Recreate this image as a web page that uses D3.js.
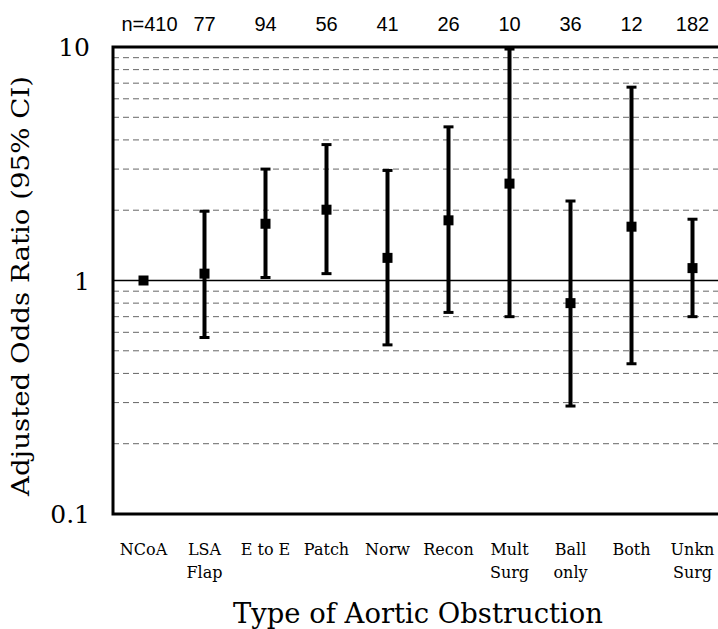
<!DOCTYPE html>
<html lang="en">
<head>
	<meta charset="UTF-8">
	<title>Adjusted Odds Ratio by Type of Aortic Obstruction</title>
	<script src="https://cdn.jsdelivr.net/npm/d3@7"></script>
	<style>
		body { margin: 0; background: #fff; }
	</style>
</head>
<body>
	<div class="box"></div>

	<script type="text/javascript">
		let categories = ['NCoA', 'LSA|Flap', 'E to E', 'Patch', 'Norw', 'Recon', 'Mult|Surg', 'Ball|only', 'Both', 'Unkn|Surg']
		let counts = ['n=410', '77', '94', '56', '41', '26', '10', '36', '12', '182']
		let oddsRatio = [1.0, 1.07, 1.75, 2.01, 1.25, 1.81, 2.6, 0.8, 1.7, 1.13]
		let ciLow = [null, 0.57, 1.03, 1.07, 0.53, 0.73, 0.70, 0.29, 0.44, 0.70]
		let ciHigh = [null, 1.98, 3.0, 3.82, 2.96, 4.55, 9.8, 2.19, 6.73, 1.83]
		let yTicks = [0.1, 1, 10]

		let width = 718
		let height = 629
		let plot = { left: 113, right: 723, top: 47, bottom: 514 }
		let serif = '"Century Schoolbook L", "DejaVu Serif", serif'

		let svg = d3.select('.box').append('svg').attr('width', width).attr('height', height)

		let x = d3.scaleBand().domain(categories).range([plot.left, plot.right])
		let y = d3.scaleLog().domain([0.1, 10]).range([plot.bottom, plot.top])

		// minor grid lines 2..9 in each decade
		let minor = []
		;[0.1, 1].forEach(dec => { for (let k = 2; k <= 9; k++) minor.push(dec * k) })
		svg.append('g').selectAll('line').data(minor).enter().append('line')
			.attr('x1', plot.left).attr('x2', plot.right)
			.attr('y1', d => y(d)).attr('y2', d => y(d))
			.attr('stroke', '#666').attr('stroke-width', 1)
			.attr('stroke-dasharray', '6,4')

		// reference line at 1
		svg.append('line')
			.attr('x1', plot.left).attr('x2', plot.right)
			.attr('y1', y(1)).attr('y2', y(1))
			.attr('stroke', '#000').attr('stroke-width', 1.5)

		// frame
		svg.append('rect')
			.attr('x', plot.left).attr('y', plot.top)
			.attr('width', plot.right - plot.left).attr('height', plot.bottom - plot.top)
			.attr('fill', 'none').attr('stroke', '#000').attr('stroke-width', 3)

		// y tick labels
		svg.append('g').selectAll('text').data(yTicks).enter().append('text')
			.attr('x', 90).attr('y', d => y(d)).attr('dy', '0.36em')
			.attr('text-anchor', 'end')
			.attr('font-family', serif).attr('font-size', '25px')
			.text(d => d)

		let cx = d => x(d) + x.bandwidth() / 2
		let pts = categories.map((c, i) => ({ c: c, or: oddsRatio[i], lo: ciLow[i], hi: ciHigh[i], n: counts[i] }))
		let withCI = pts.filter(d => d.lo !== null)

		// error bars
		let bars = svg.append('g')
		bars.selectAll('line.whisker').data(withCI).enter().append('line')
			.attr('class', 'whisker')
			.attr('x1', d => cx(d.c)).attr('x2', d => cx(d.c))
			.attr('y1', d => y(d.lo)).attr('y2', d => y(d.hi))
			.attr('stroke', '#000').attr('stroke-width', 4)
		bars.selectAll('line.capHi').data(withCI).enter().append('line')
			.attr('class', 'capHi')
			.attr('x1', d => cx(d.c) - 5).attr('x2', d => cx(d.c) + 5)
			.attr('y1', d => y(d.hi)).attr('y2', d => y(d.hi))
			.attr('stroke', '#000').attr('stroke-width', 3)
		bars.selectAll('line.capLo').data(withCI).enter().append('line')
			.attr('class', 'capLo')
			.attr('x1', d => cx(d.c) - 5).attr('x2', d => cx(d.c) + 5)
			.attr('y1', d => y(d.lo)).attr('y2', d => y(d.lo))
			.attr('stroke', '#000').attr('stroke-width', 3)

		// point estimates
		svg.append('g').selectAll('rect').data(pts).enter().append('rect')
			.attr('x', d => cx(d.c) - 5).attr('y', d => y(d.or) - 5)
			.attr('width', 10).attr('height', 10)
			.attr('fill', '#000')

		// sample sizes above the plot
		svg.append('g').selectAll('text').data(pts).enter().append('text')
			.attr('x', (d, i) => cx(d.c) + (i === 0 ? 6 : 0)).attr('y', 31)
			.attr('text-anchor', 'middle')
			.attr('font-family', '"Liberation Sans", Arial, sans-serif').attr('font-size', '20px')
			.text(d => d.n)

		// category labels, two lines
		let cat = svg.append('g').selectAll('text').data(categories).enter().append('text')
			.attr('text-anchor', 'middle')
			.attr('font-family', serif).attr('font-size', '16px')
		cat.selectAll('tspan').data(d => d.split('|').map(s => ({ s: s, c: d }))).enter().append('tspan')
			.attr('x', d => cx(d.c))
			.attr('y', (d, i) => 555 + i * 23)
			.text(d => d.s)

		// axis titles
		svg.append('text')
			.attr('x', (plot.left + plot.right) / 2).attr('y', 623)
			.attr('text-anchor', 'middle')
			.attr('font-family', serif).attr('font-size', '27px')
			.attr('textLength', 370).attr('lengthAdjust', 'spacingAndGlyphs')
			.text('Type of Aortic Obstruction')

		svg.append('text')
			.attr('transform', 'translate(29,286) rotate(-90)')
			.attr('text-anchor', 'middle')
			.attr('font-family', serif).attr('font-size', '25px')
			.attr('textLength', 420).attr('lengthAdjust', 'spacingAndGlyphs')
			.text('Adjusted Odds Ratio (95% CI)')
	</script>
</body>
</html>
